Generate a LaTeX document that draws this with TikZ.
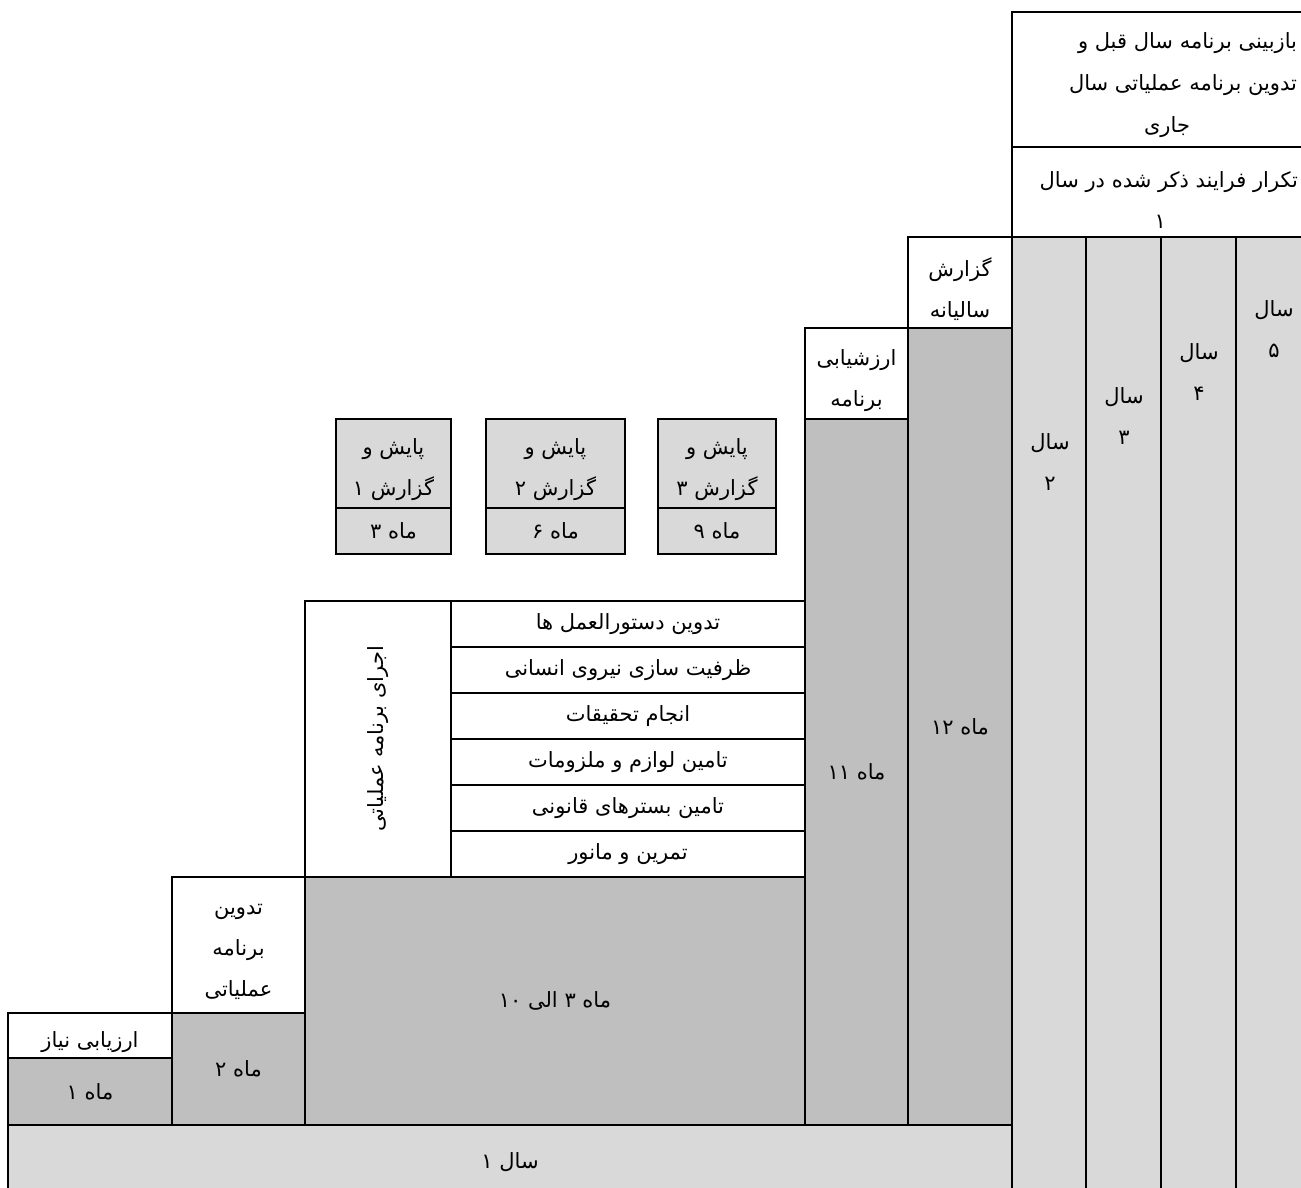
\documentclass[tikz,border=0pt]{standalone}
\usepackage{fontspec}
\TeXXeTstate=1
\newfontfamily\arabicfont[Script=Arabic]{DejaVu Sans}
\newcommand{\fatxt}[1]{\beginR#1\endR}
\definecolor{darkcell}{HTML}{BFBFBF}
\definecolor{lightcell}{HTML}{D9D9D9}
\tikzset{
  cell/.style={draw=black, line width=1.5pt, rectangle, inner sep=0pt, outer sep=0pt,
    font=\fontsize{21}{41}\selectfont\arabicfont, align=center, text=black},
  txt/.style={inner sep=0pt, outer sep=0pt, font=\fontsize{21}{41}\selectfont\arabicfont, align=center, text=black},
}
\begin{document}
\begin{tikzpicture}[x=1pt,y=-1pt]
\useasboundingbox (0,0) rectangle (1301,1187);
\clip (0,0) rectangle (1301,1187);
\fill[white] (0,0) rectangle (1301,1187);
% years 2-5
\node[cell, fill=lightcell, minimum width=74pt, minimum height=963pt] (yr2) at (1049,718.5) {};
\node[cell, fill=lightcell, minimum width=75pt, minimum height=963pt] (yr3) at (1123.5,718.5) {};
\node[cell, fill=lightcell, minimum width=75pt, minimum height=963pt] (yr4) at (1198.5,718.5) {};
\node[cell, fill=lightcell, minimum width=75pt, minimum height=963pt] (yr5) at (1273.5,718.5) {};
\node[txt] (yr2t) at (1050,462) {\fatxt{سال}\\\fatxt{۲}};
\node[txt] (yr3t) at (1124,416) {\fatxt{سال}\\\fatxt{۳}};
\node[txt] (yr4t) at (1199,372) {\fatxt{سال}\\\fatxt{۴}};
\node[txt] (yr5t) at (1274,329) {\fatxt{سال}\\\fatxt{۵}};
% header
\node[cell, fill=white, minimum width=308pt, minimum height=135pt] (hd1) at (1166,79.5) {};
\node[cell, fill=white, minimum width=308pt, minimum height=90pt] (hd2) at (1166,192) {};
\node[txt, align=right, anchor=east] (hd1t) at (1297,85) {\fatxt{بازبینی برنامه سال قبل و}\\[1pt]\fatxt{تدوین برنامه عملیاتی سال}\\[1pt]\fatxt{جاری}\hspace*{107pt}};
\node[txt, align=right, anchor=east] (hd2t) at (1298,200) {\fatxt{تکرار فرایند ذکر شده در سال}\\\fatxt{۱}\hspace*{132pt}};
% year 1
\node[cell, fill=lightcell, minimum width=1004pt, minimum height=75pt] (yr1) at (510,1162.5) {\fatxt{سال ۱}};
% month 1
\node[cell, fill=white, minimum width=164pt, minimum height=45pt] (need) at (90,1035.5) {};
\node[txt] (needt) at (90,1042) {\fatxt{ارزیابی نیاز}};
\node[cell, fill=darkcell, minimum width=164pt, minimum height=67pt] (m1) at (90,1091.5) {\fatxt{ماه ۱}};
% month 2
\node[cell, fill=white, minimum width=133pt, minimum height=136pt] (plan) at (238.5,945) {};
\node[txt] (plant) at (238.5,952) {\fatxt{تدوین}\\\fatxt{برنامه}\\\fatxt{عملیاتی}};
\node[cell, fill=darkcell, minimum width=133pt, minimum height=112pt] (m2) at (238.5,1069) {\fatxt{ماه ۲}};
% months 3-10
\node[cell, fill=darkcell, minimum width=500pt, minimum height=248pt] (m310) at (555,1001) {\fatxt{ماه ۳ الی ۱۰}};
\node[cell, fill=white, minimum width=146pt, minimum height=276pt] (exec) at (378,739) {};
\node[txt, rotate=90] (exect) at (378,739) {\fatxt{اجرای برنامه عملیاتی}};
\node[cell, fill=white, minimum width=354pt, minimum height=46pt] (r1) at (628,624) {\fatxt{تدوین دستورالعمل ها}};
\node[cell, fill=white, minimum width=354pt, minimum height=46pt] (r2) at (628,670) {\fatxt{ظرفیت سازی نیروی انسانی}};
\node[cell, fill=white, minimum width=354pt, minimum height=46pt] (r3) at (628,716) {\fatxt{انجام تحقیقات}};
\node[cell, fill=white, minimum width=354pt, minimum height=46pt] (r4) at (628,762) {\fatxt{تامین لوازم و ملزومات}};
\node[cell, fill=white, minimum width=354pt, minimum height=46pt] (r5) at (628,808) {\fatxt{تامین بسترهای قانونی}};
\node[cell, fill=white, minimum width=354pt, minimum height=46pt] (r6) at (628,854) {\fatxt{تمرین و مانور}};
% monitoring
\node[cell, fill=lightcell, minimum width=115pt, minimum height=89pt] (p1) at (393.5,463.5) {};
\node[txt] (p1t) at (393.5,469.5) {\fatxt{پایش و}\\\fatxt{گزارش ۱}};
\node[cell, fill=lightcell, minimum width=115pt, minimum height=46pt] (p1m) at (393.5,531) {\fatxt{ماه ۳}};
\node[cell, fill=lightcell, minimum width=139pt, minimum height=89pt] (p2) at (555.5,463.5) {};
\node[txt] (p2t) at (555.5,469.5) {\fatxt{پایش و}\\\fatxt{گزارش ۲}};
\node[cell, fill=lightcell, minimum width=139pt, minimum height=46pt] (p2m) at (555.5,531) {\fatxt{ماه ۶}};
\node[cell, fill=lightcell, minimum width=118pt, minimum height=89pt] (p3) at (717,463.5) {};
\node[txt] (p3t) at (717,469.5) {\fatxt{پایش و}\\\fatxt{گزارش ۳}};
\node[cell, fill=lightcell, minimum width=118pt, minimum height=46pt] (p3m) at (717,531) {\fatxt{ماه ۹}};
% month 11
\node[cell, fill=white, minimum width=103pt, minimum height=91pt] (eval) at (856.5,373.5) {};
\node[txt] (evalt) at (856.5,380.5) {\fatxt{ارزشیابی}\\\fatxt{برنامه}};
\node[cell, fill=darkcell, minimum width=103pt, minimum height=706pt] (m11) at (856.5,772) {\fatxt{ماه ۱۱}};
% month 12
\node[cell, fill=white, minimum width=104pt, minimum height=91pt] (annual) at (960,282.5) {};
\node[txt] (annualt) at (960,289) {\fatxt{گزارش}\\\fatxt{سالیانه}};
\node[cell, fill=darkcell, minimum width=104pt, minimum height=797pt] (m12) at (960,726.5) {\fatxt{ماه ۱۲}};
\end{tikzpicture}
\end{document}
